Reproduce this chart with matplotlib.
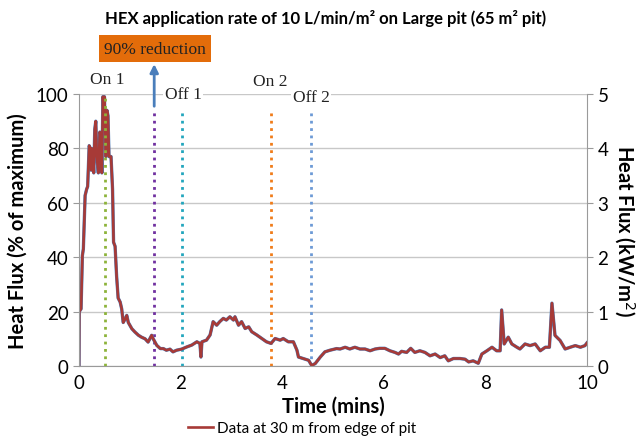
import matplotlib.pyplot as plt

# Heat flux record (time in mins, % of maximum)
time_min = [0.0, 0.005, 0.04, 0.066, 0.085, 0.12, 0.15, 0.17, 0.2, 0.22, 0.24,
            0.25, 0.27, 0.29, 0.31, 0.33, 0.35, 0.38, 0.41, 0.43, 0.45, 0.47,
            0.49, 0.5, 0.53, 0.55, 0.57, 0.59, 0.63, 0.66, 0.68, 0.71, 0.74,
            0.77, 0.81, 0.84, 0.87, 0.91, 0.94, 0.97, 1.04, 1.1, 1.17, 1.23,
            1.3, 1.36, 1.43, 1.46, 1.53, 1.6, 1.66, 1.72, 1.79, 1.85, 1.92,
            2.02, 2.12, 2.22, 2.32, 2.38, 2.40, 2.42, 2.51, 2.58, 2.64, 2.71,
            2.77, 2.84, 2.90, 2.97, 3.04, 3.07, 3.14, 3.20, 3.27, 3.34, 3.40,
            3.50, 3.60, 3.69, 3.78, 3.86, 3.96, 4.02, 4.12, 4.22, 4.29, 4.32,
            4.42, 4.52, 4.58, 4.65, 4.75, 4.84, 4.94, 5.07, 5.14, 5.24, 5.33,
            5.43, 5.53, 5.63, 5.73, 5.83, 5.92, 6.02, 6.12, 6.22, 6.29, 6.35,
            6.45, 6.53, 6.61, 6.71, 6.81, 6.91, 7.01, 7.11, 7.20, 7.27, 7.37,
            7.50, 7.60, 7.67, 7.76, 7.86, 7.93, 8.03, 8.13, 8.22, 8.29, 8.32,
            8.37, 8.45, 8.52, 8.62, 8.68, 8.78, 8.88, 8.98, 9.08, 9.18, 9.26,
            9.31, 9.37, 9.47, 9.57, 9.67, 9.77, 9.87, 9.96, 10.0]
flux_pct = [0.0, 20.0, 21.0, 40.6, 43.0, 62.7, 65.0, 66.0, 81.0, 80.0, 72.0,
            80.0, 77.0, 71.0, 87.0, 90.0, 77.0, 71.0, 86.0, 84.0, 71.0, 99.0,
            94.0, 99.0, 77.0, 94.0, 92.0, 77.0, 77.0, 65.0, 45.5, 44.0, 33.0,
            25.0, 23.5, 21.0, 16.0, 17.4, 18.6, 16.0, 13.7, 12.5, 11.3, 10.6,
            10.0, 8.8, 11.3, 10.0, 7.6, 6.4, 6.4, 5.8, 6.2, 5.2, 5.8,
            6.2, 7.0, 7.7, 8.9, 8.3, 3.3, 8.9, 9.5, 11.4, 16.3, 15.0,
            16.3, 17.5, 16.9, 18.1, 16.9, 18.1, 15.0, 16.3, 13.8, 14.4, 12.6,
            11.4, 10.1, 8.9, 8.3, 10.1, 9.5, 10.1, 8.9, 8.9, 5.8, 3.3,
            2.7, 2.1, 0.2, 0.9, 3.3, 5.2, 5.8, 6.4, 6.25, 6.9, 6.25,
            6.9, 6.25, 6.25, 5.6, 6.25, 6.5, 6.5, 5.6, 5.0, 4.4, 5.4,
            5.0, 6.5, 5.0, 5.6, 5.0, 3.75, 4.4, 3.1, 3.75, 1.9, 2.75,
            2.75, 2.5, 1.5, 1.9, 1.0, 4.4, 5.6, 6.9, 5.6, 5.6, 20.6,
            8.1, 10.6, 8.1, 6.9, 6.25, 8.1, 7.5, 8.1, 5.6, 6.9, 6.9,
            23.1, 11.25, 9.4, 6.25, 6.9, 7.5, 6.9, 7.5, 8.5]

# Hose events (time in mins)
event_names = ['On 1', 'Off 1', 'On 2', 'Off 2']
event_times = [0.51, 2.03, 3.78, 4.57]
event_colors = ['#8db33a', '#23a6bd', '#f07c1a', '#6d9ad6']
reduction_time = 1.48

plt.rcParams['font.family'] = ['Lato', 'DejaVu Sans']

fig = plt.figure(figsize=(6.43, 4.39), dpi=100)
ax = fig.add_axes([0.1229, 0.164, 0.79, 0.6196])

# Vertical event markers
ax.plot([event_times[0]] * 2, [0, 100], ls=':', lw=2, color=event_colors[0], zorder=3)
for t, c in zip(event_times[1:], event_colors[1:]):
    ax.plot([t, t], [0, 93.5], ls=':', lw=2, color=c, zorder=1)
ax.plot([reduction_time] * 2, [0, 93.5], ls=':', lw=2, color='#7030a0', zorder=1)

ax.plot(time_min, flux_pct, color='#4a7ebb', lw=2.4, zorder=2)
line, = ax.plot(time_min, flux_pct, color='#a73a37', lw=1.9, zorder=2,
                label='Data at 30 m from edge of pit')

ax.set_xlim(0, 10)
ax.set_ylim(0, 100)
ax.set_xticks(range(0, 11, 2))
ax.set_yticks(range(0, 101, 20))
ax.grid(axis='y', color='#c8c8c8', lw=1)
ax.set_axisbelow(True)
ax.spines['top'].set_visible(False)
for s in ['left', 'bottom']:
    ax.spines[s].set_color('#9a9a9a')
ax.spines['right'].set_visible(False)
ax.tick_params(axis='both', labelsize=13.5, color='#9a9a9a', length=4)
ax.tick_params(axis='x', length=0, pad=6)
ax.set_xlabel('Time (mins)', fontsize=14.5, fontweight='bold', labelpad=3)
ax.set_ylabel('Heat Flux (% of maximum)', fontsize=14.5, fontweight='bold', labelpad=6)

ax2 = ax.twinx()
ax2.set_ylim(0, 5)
ax2.set_yticks(range(0, 6))
for s in ['top', 'left', 'bottom']:
    ax2.spines[s].set_visible(False)
ax2.spines['right'].set_color('#9a9a9a')
ax2.tick_params(axis='y', labelsize=13.5, color='#9a9a9a', length=4)
ax2.set_ylabel('Heat Flux (kW/m$^2$)', fontsize=14.5, fontweight='bold',
               rotation=270, labelpad=20)

# Title and annotations (serif labels as in the original)
fig.text(0.507, 0.958, 'HEX application rate of 10 L/min/m² on Large pit (65 m² pit)',
         ha='center', va='center', fontsize=12, fontweight='bold')
serif = ['Liberation Serif', 'DejaVu Serif']
fig.text(0.241, 0.887, '90% reduction', ha='center', va='center', fontsize=12.5,
         family=serif, color='#222222',
         bbox=dict(boxstyle='square,pad=0.3', fc='#e36c0a', ec='none'))
ax.annotate('', xy=(reduction_time, 111), xytext=(reduction_time, 95.5),
            annotation_clip=False,
            arrowprops=dict(arrowstyle='-|>', color='#4a7ebb', lw=2,
                            mutation_scale=12, shrinkA=0, shrinkB=0))
label_pos = [(107, 80), (183, 95), (270, 82), (311, 98)]
for name, (px, py) in zip(event_names, label_pos):
    fig.text(px / 643, 1 - py / 439, name, ha='center', va='center',
             fontsize=12.5, family=serif, color='#222222',
             bbox=dict(fc='white', ec='none', pad=1))

fig.legend(handles=[line], loc='center', bbox_to_anchor=(0.47, 0.022),
           frameon=False, fontsize=11, handlelength=1.6, handletextpad=0.3,
           borderaxespad=0)

fig.savefig('out.png', dpi=100)
